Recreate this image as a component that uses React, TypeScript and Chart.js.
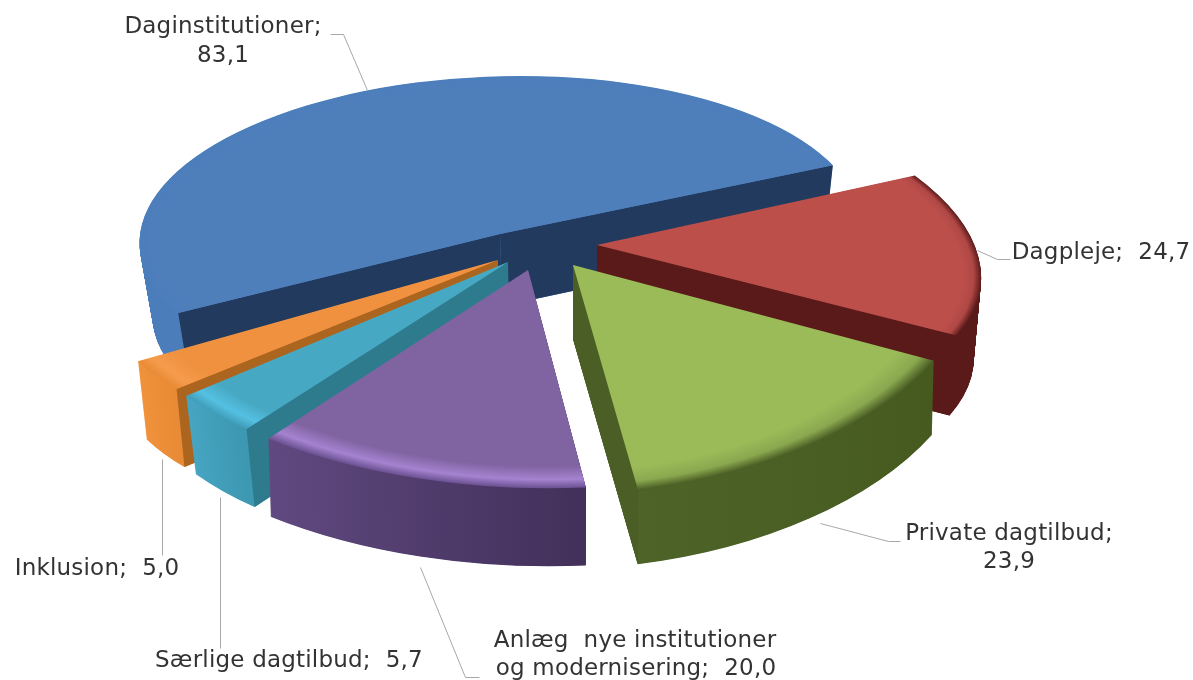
import React, { useEffect, useRef } from "react";
import { Chart, registerables } from "chart.js";

Chart.register(...registerables);

const categories = ["Daginstitutioner", "Dagpleje", "Private dagtilbud", "Anlæg nye institutioner og modernisering", "Særlige dagtilbud", "Inklusion"];
const values = [83.1, 24.7, 23.9, 20.0, 5.7, 5.0];
const topColors = ["#4f7fbb", "#bd4f4b", "#9bbb59", "#8064a2", "#46a8c2", "#f09140"];
const rimHighlights = ["#4f7fbb", "#b04845", "#8aa84f", "#a583d0", "#55c0e2", "#f59c4c"];
const rimEdges = ["#4c7ebc", "#5f1c1c", "#4a5e25", "#6a5090", "#3f9db8", "#e88a35"];
const bevelStarts = [0.9, 0.95, 0.9, 0.9, 0.9, 0.9];
const wallStarts = ["#4a7dba", "#5b1a1a", "#465a20", "#42305a", "#3c97b0", "#e88a35"];
const wallEnds = ["#4a7dba", "#5b1a1a", "#4d6327", "#604980", "#46a5c2", "#f0913c"];
const cutColors = ["#223a5e", "#5a1a1a", "#4a5e25", "#42305a", "#2f7b8e", "#ab651f"];
const cutStartVisible = [true, false, false, false, true, true];
const cutEndVisible = [true, true, true, false, false, false];

// projection of each slice from the flat pie onto the page: [a, b, c, d, tx, ty]
const sliceViews = [
  [360, -20, 0, 158, 500, 234],
  [380, 56, 7, 174, 597, 245],
  [408, 8, -18, 230, 573, 265],
  [435, -3, 12, 218, 528, 270],
  [401, -30, 8, 213, 508, 262],
  [395, -36, -10, 185, 498, 260],
];
const sliceDepths = [72, 80, 74, 78, 78, 78];
const convergeAmounts = [0.03, 0.018, 0.005, 0.008, 0.025, 0.02];
const paintOrder = [0, 1, 2, 5, 4, 3];
const convergeX = 570;
const startRotation = 240;

const fmt = (v: number) => v.toFixed(1).replace(".", ",");
const labelLines = [
  [{ t: `${categories[0]};`, x: 223, y: 27 }, { t: fmt(values[0]), x: 223, y: 56 }],
  [{ t: `${categories[1]};  ${fmt(values[1])}`, x: 1101, y: 253 }],
  [{ t: `${categories[2]};`, x: 1009, y: 534 }, { t: fmt(values[2]), x: 1009, y: 562 }],
  [{ t: "Anlæg  nye institutioner", x: 635, y: 641 }, { t: `og modernisering;  ${fmt(values[3])}`, x: 636, y: 669 }],
  [{ t: `${categories[4]};  ${fmt(values[4])}`, x: 289, y: 661 }],
  [{ t: `${categories[5]};  ${fmt(values[5])}`, x: 97, y: 569 }],
];
const leaders = [
  [[330, 34], [343, 34], [367, 90]],
  [[977, 250], [997, 259], [1010, 259]],
  [[820, 523], [888, 541], [900, 541]],
  [[420, 567], [465, 677], [479, 677]],
  [[220, 497], [220, 648]],
  [[162, 459], [162, 555]],
];

const pie3d = {
  id: "pie3d",
  beforeDatasetDraw(chart: any, args: any) {
    const ctx = chart.ctx as CanvasRenderingContext2D;
    const arcs = args.meta.data;
    for (const i of paintOrder) {
      const arc = arcs[i];
      const { x, y, outerRadius: R, startAngle, endAngle } = arc;
      const [a, b, c, d, tx, ty] = sliceViews[i];
      const depth = sliceDepths[i];
      const base = arc.options;
      const place = (t: number) => {
        ctx.translate(convergeX, 0);
        ctx.scale(1 - convergeAmounts[i] * t, 1);
        ctx.translate(-convergeX, depth * t);
        ctx.transform(a / R, c / R, b / R, d / R, tx - (a * x + b * y) / R, ty - (c * x + d * y) / R);
      };
      const rimAt = (ang: number) => [x + R * Math.cos(ang), y + R * Math.sin(ang)];
      const [sx, sy] = rimAt(startAngle);
      const [ex, ey] = rimAt(endAngle);

      // outer wall
      const wall = ctx.createLinearGradient(sx, sy, ex, ey);
      wall.addColorStop(0, wallStarts[i]);
      wall.addColorStop(1, wallEnds[i]);
      arc.options = { ...base, backgroundColor: wall, borderWidth: 0 };
      const steps = Math.round(depth * 2);
      for (let s = steps; s > 0; s--) {
        ctx.save();
        place(s / steps);
        arc.draw(ctx);
        ctx.restore();
      }

      // straight cut walls
      const cut = (px: number, py: number) => {
        ctx.beginPath();
        ctx.save();
        place(0);
        ctx.moveTo(x, y);
        ctx.lineTo(px, py);
        ctx.restore();
        ctx.save();
        place(1);
        ctx.lineTo(px, py);
        ctx.lineTo(x, y);
        ctx.restore();
        ctx.closePath();
        ctx.fillStyle = cutColors[i];
        ctx.fill();
      };
      if (cutStartVisible[i]) cut(sx, sy);
      if (cutEndVisible[i]) cut(ex, ey);

      // top face with a soft bevel on the rim
      const top = ctx.createRadialGradient(x, y, 0, x, y, R);
      const bs = bevelStarts[i];
      top.addColorStop(0, topColors[i]);
      top.addColorStop(bs, topColors[i]);
      top.addColorStop(bs + (1 - bs) * 0.6, rimHighlights[i]);
      top.addColorStop(1, rimEdges[i]);
      arc.options = { ...base, backgroundColor: top, borderWidth: 0 };
      ctx.save();
      place(0);
      arc.draw(ctx);
      ctx.restore();
      arc.options = base;
    }
    return false;
  },
  afterDraw(chart: any) {
    const ctx = chart.ctx as CanvasRenderingContext2D;
    ctx.save();
    ctx.strokeStyle = "#a8a8a8";
    ctx.lineWidth = 1;
    for (const pts of leaders) {
      ctx.beginPath();
      pts.forEach(([px, py], k) => (k ? ctx.lineTo(px + 0.5, py + 0.5) : ctx.moveTo(px + 0.5, py + 0.5)));
      ctx.stroke();
    }
    ctx.fillStyle = "#333333";
    ctx.font = '23px "DejaVu Sans"';
    (ctx as any).letterSpacing = "0.2px";
    ctx.textAlign = "center";
    ctx.textBaseline = "middle";
    for (const group of labelLines) for (const l of group) ctx.fillText(l.t, l.x, l.y);
    ctx.restore();
  },
};

export default function App() {
  const ref = useRef<HTMLCanvasElement>(null);
  useEffect(() => {
    const chart = new Chart(ref.current as HTMLCanvasElement, {
      type: "pie",
      data: {
        labels: categories,
        datasets: [{ data: values, backgroundColor: topColors, borderWidth: 0 }],
      },
      options: {
        animation: false,
        responsive: false,
        rotation: startRotation,
        layout: { padding: 0 },
        plugins: { legend: { display: false }, tooltip: { enabled: false } },
      },
      plugins: [pie3d],
    } as any);
    return () => chart.destroy();
  }, []);
  return (
    <canvas
      ref={ref}
      width={1193}
      height={680}
      style={{ position: "absolute", left: 0, top: 0, width: 1193, height: 680, background: "#ffffff" }}
    />
  );
}
